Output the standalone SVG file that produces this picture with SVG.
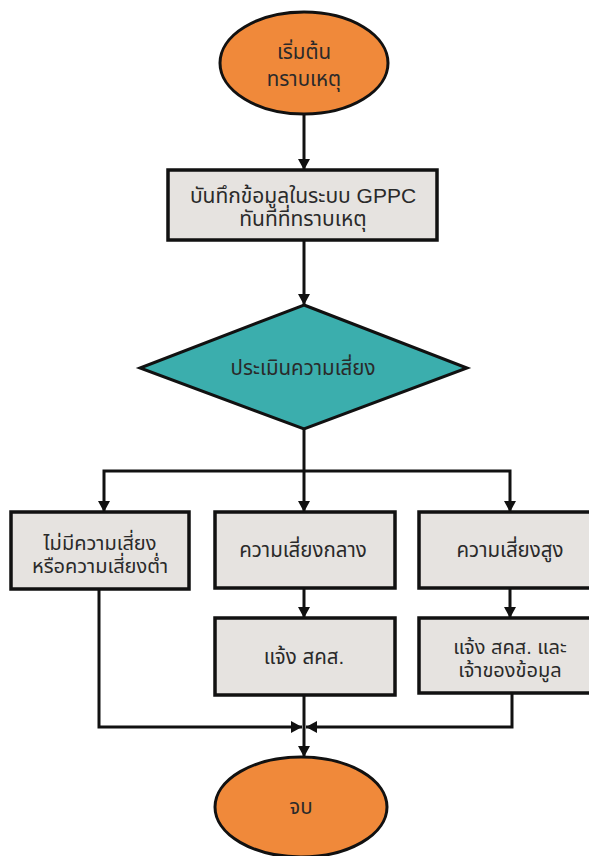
<svg xmlns="http://www.w3.org/2000/svg" width="589" height="856" viewBox="0 0 589 856">
<defs>
<marker id="arr" markerUnits="userSpaceOnUse" markerWidth="12" markerHeight="12" refX="11" refY="6" orient="auto">
<path d="M0,0 L11,6 L0,12 z" fill="#111"/>
</marker>
<style>
.bg{fill:#ffffff}
.term{fill:#F0893A;stroke:#111;stroke-width:3}
.dec{fill:#3BAEAD;stroke:#111;stroke-width:3}
.proc{fill:#E6E3E0;stroke:#111;stroke-width:3.5}
.con{fill:none;stroke:#111;stroke-width:3}
text{font-family:"Liberation Sans","Noto Sans Thai","Noto Sans",sans-serif;font-size:20.5px;fill:#2a2a2a;text-anchor:middle}
.big{font-size:21px}
.two{font-size:20px}
</style>
</defs>
<rect class="bg" x="0" y="0" width="589" height="856"/>
<g id="connectors">
<path class="con" d="M304,114 V170" marker-end="url(#arr)"/>
<path class="con" d="M304,240 V305" marker-end="url(#arr)"/>
<path class="con" d="M304,429 V512" marker-end="url(#arr)"/>
<path class="con" d="M304,471 H104 V512" marker-end="url(#arr)"/>
<path class="con" d="M304,471 H510 V512" marker-end="url(#arr)"/>
<path class="con" d="M304,588 V618" marker-end="url(#arr)"/>
<path class="con" d="M510,588 V618" marker-end="url(#arr)"/>
<path class="con" d="M99,589 V727 H302" marker-end="url(#arr)"/>
<path class="con" d="M512,693 V727 H306" marker-end="url(#arr)"/>
<path class="con" d="M304,695 V757" marker-end="url(#arr)"/>
</g>
<g id="start">
<ellipse class="term" cx="304" cy="63" rx="84" ry="51"/>
<text x="304" y="59">เริ่มต้น</text>
<text x="304" y="86">ทราบเหตุ</text>
</g>
<g id="record">
<rect class="proc" x="168" y="170" width="269" height="70"/>
<text class="big" x="303" y="203">บันทึกข้อมูลในระบบ GPPC</text>
<text class="big" x="303" y="226">ทันทีที่ทราบเหตุ</text>
</g>
<g id="assess">
<polygon class="dec" points="304,305 467,368 304,429 140,368"/>
<text x="303" y="375">ประเมินความเสี่ยง</text>
</g>
<g id="low">
<rect class="proc" x="11" y="512" width="178" height="77"/>
<text class="two" x="100" y="550">ไม่มีความเสี่ยง</text>
<text class="two" x="100" y="573">หรือความเสี่ยงต่ำ</text>
</g>
<g id="medium">
<rect class="proc" x="215" y="512" width="180" height="76"/>
<text x="303" y="557">ความเสี่ยงกลาง</text>
</g>
<g id="high">
<rect class="proc" x="419" y="512" width="178" height="76"/>
<text x="510" y="557">ความเสี่ยงสูง</text>
</g>
<g id="notify1">
<rect class="proc" x="215" y="618" width="180" height="77"/>
<text x="304" y="664">แจ้ง สคส.</text>
</g>
<g id="notify2">
<rect class="proc" x="419" y="618" width="178" height="75"/>
<text class="two" x="510" y="654">แจ้ง สคส. และ</text>
<text class="two" x="510" y="677">เจ้าของข้อมูล</text>
</g>
<g id="end">
<ellipse class="term" cx="301" cy="807" rx="86" ry="50"/>
<text x="301" y="814">จบ</text>
</g>
</svg>
